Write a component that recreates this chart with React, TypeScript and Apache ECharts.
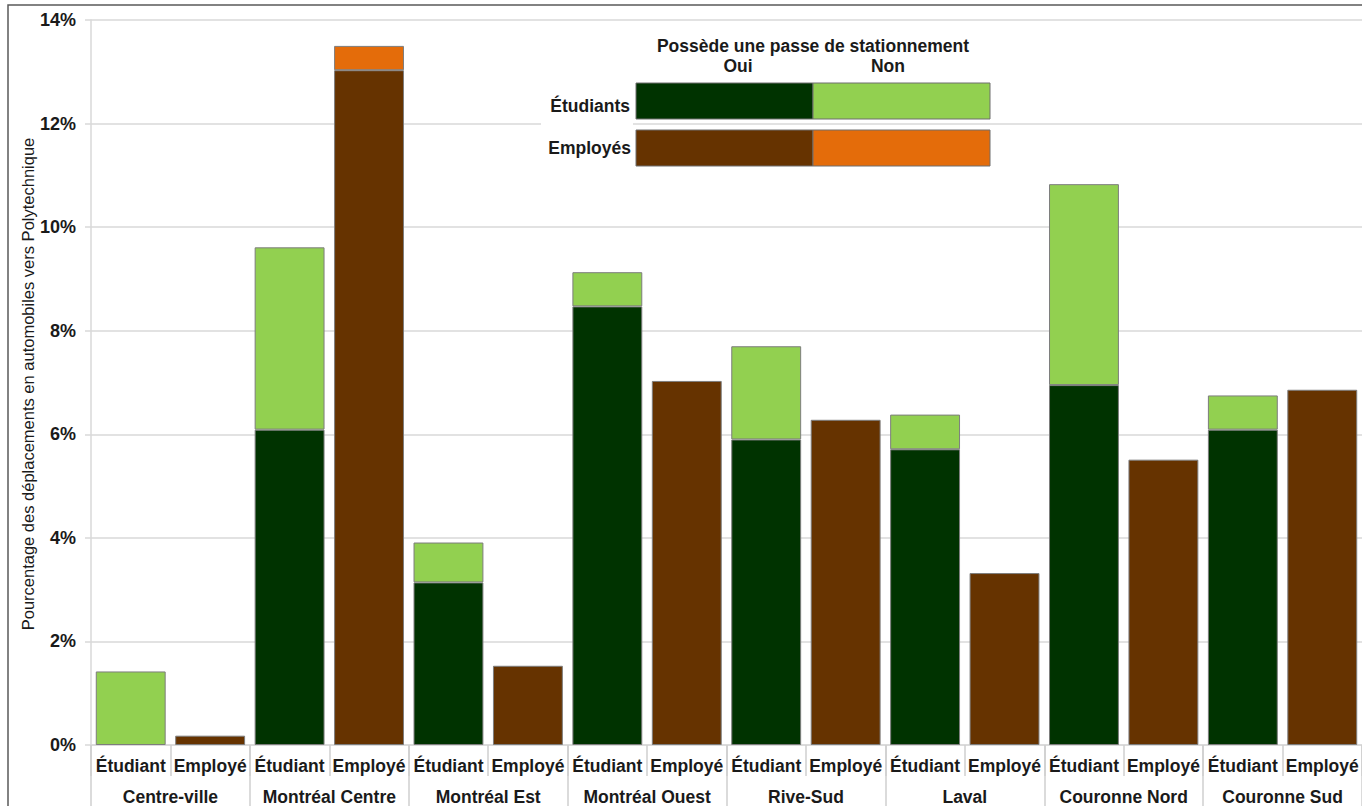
import React, { useEffect, useRef } from "react";
import * as echarts from "echarts";

const groups = [
  "Centre-ville",
  "Montréal Centre",
  "Montréal Est",
  "Montréal Ouest",
  "Rive-Sud",
  "Laval",
  "Couronne Nord",
  "Couronne Sud",
];
const roles = ["Étudiant", "Employé"];
const etudiantsOui = [0, 6.09, 3.14, 8.47, 5.9, 5.71, 6.95, 6.09];
const etudiantsNon = [1.42, 3.52, 0.77, 0.66, 1.8, 0.67, 3.88, 0.66];
const employesOui = [0.18, 13.03, 1.53, 7.03, 6.28, 3.32, 5.51, 6.86];
const employesNon = [0, 0.47, 0, 0, 0, 0, 0, 0];
const yTicks = [0, 2, 4, 6, 8, 10, 12, 14];

const C_ETU_OUI = "#003300";
const C_ETU_NON = "#92D050";
const C_EMP_OUI = "#663300";
const C_EMP_NON = "#E46C0A";
const FONT = "Liberation Sans, Arial, sans-serif";
const TXT = "#1a1a1a";
const GRID = "#d9d9d9";
const LEG_FS = 17.5;

function spread(values: number[], slot: number): (number | string)[] {
  const out: (number | string)[] = [];
  values.forEach((v) => {
    for (let k = 0; k < 2; k++) {
      out.push(k === slot && v > 0 ? v : "-");
    }
  });
  return out;
}

export default function App() {
  const ref = useRef<HTMLDivElement>(null);
  useEffect(() => {
    if (!ref.current) return;
    const chart = echarts.init(ref.current, undefined, { renderer: "svg" });
    const categories: string[] = [];
    groups.forEach(() => roles.forEach((r) => categories.push(r)));
    const barStyle = (color: string) => ({
      color,
      borderColor: "#7d7d7d",
      borderWidth: 1,
    });
    const mk = (name: string, data: (number | string)[], color: string) => ({
      name,
      type: "bar",
      stack: "total",
      xAxisIndex: 0,
      barWidth: "88%",
      data,
      itemStyle: barStyle(color),
    });
    const legText = (text: string, x: number, y: number, align: string) => ({
      type: "text",
      x,
      y,
      z: 101,
      style: {
        text,
        fontSize: LEG_FS,
        fontWeight: "bold",
        fontFamily: FONT,
        fill: TXT,
        align,
        verticalAlign: "middle",
      },
    });
    const legBox = (x: number, y: number, color: string) => ({
      type: "rect",
      z: 101,
      shape: { x, y, width: 177, height: 36 },
      style: { fill: color, stroke: "#6e6e6e", lineWidth: 1 },
    });
    chart.setOption({
      animation: false,
      backgroundColor: "#ffffff",
      textStyle: { fontFamily: FONT },
      grid: { left: 91, right: -6, top: 20, bottom: 61, containLabel: false },
      xAxis: [
        {
          type: "category",
          data: categories,
          position: "bottom",
          axisLine: { show: true, lineStyle: { color: GRID, width: 1.5 } },
          axisTick: {
            show: true,
            interval: 0,
            length: 31,
            lineStyle: { color: "#cfcfcf", width: 1.5 },
          },
          axisLabel: {
            interval: 0,
            margin: 12,
            color: TXT,
            fontWeight: "bold",
            fontSize: 17.5,
            fontFamily: FONT,
          },
        },
        {
          type: "category",
          data: groups,
          position: "bottom",
          axisLine: { show: false },
          axisTick: {
            show: true,
            interval: 0,
            length: 62,
            lineStyle: { color: "#cfcfcf", width: 1.5 },
          },
          axisLabel: {
            interval: 0,
            margin: 43,
            color: TXT,
            fontWeight: "bold",
            fontSize: 17.5,
            fontFamily: FONT,
          },
        },
      ],
      yAxis: {
        type: "value",
        min: yTicks[0],
        max: yTicks[yTicks.length - 1],
        interval: 2,
        axisLine: { show: true, lineStyle: { color: GRID, width: 1.5 } },
        axisTick: { show: true, length: 6, lineStyle: { color: GRID, width: 1.5 } },
        splitLine: { show: true, lineStyle: { color: GRID, width: 1.5 } },
        axisLabel: {
          formatter: "{value}%",
          margin: 15,
          color: TXT,
          fontWeight: "bold",
          fontSize: 18,
          fontFamily: FONT,
        },
      },
      series: [
        mk("Étudiants – Oui", spread(etudiantsOui, 0), C_ETU_OUI),
        mk("Étudiants – Non", spread(etudiantsNon, 0), C_ETU_NON),
        mk("Employés – Oui", spread(employesOui, 1), C_EMP_OUI),
        mk("Employés – Non", spread(employesNon, 1), C_EMP_NON),
      ],
      graphic: [
        {
          type: "rect",
          shape: { x: 8, y: 5, width: 1400, height: 900 },
          style: { fill: "none", stroke: "#5a5a5a", lineWidth: 1.5 },
          silent: true,
          z: 100,
        },
        {
          type: "text",
          x: 28,
          y: 384,
          rotation: Math.PI / 2,
          style: {
            text: "Pourcentage des déplacements en automobiles vers Polytechnique",
            fontSize: 16.5,
            fontFamily: FONT,
            fill: TXT,
            align: "center",
            verticalAlign: "middle",
          },
        },
        {
          type: "rect",
          shape: { x: 541, y: 86, width: 92, height: 78 },
          style: { fill: "#ffffff" },
          z: 100,
        },
        legText("Possède une passe de stationnement", 813, 46, "center"),
        legText("Oui", 738, 66, "center"),
        legText("Non", 888, 66, "center"),
        legText("Étudiants", 630, 106, "right"),
        legText("Employés", 631, 148, "right"),
        legBox(636, 83, C_ETU_OUI),
        legBox(813, 83, C_ETU_NON),
        legBox(636, 130, C_EMP_OUI),
        legBox(813, 130, C_EMP_NON),
      ],
    });
    return () => chart.dispose();
  }, []);
  return (
    <div
      ref={ref}
      style={{ position: "fixed", left: 0, top: 0, width: 1362, height: 806, background: "#fff" }}
    />
  );
}
